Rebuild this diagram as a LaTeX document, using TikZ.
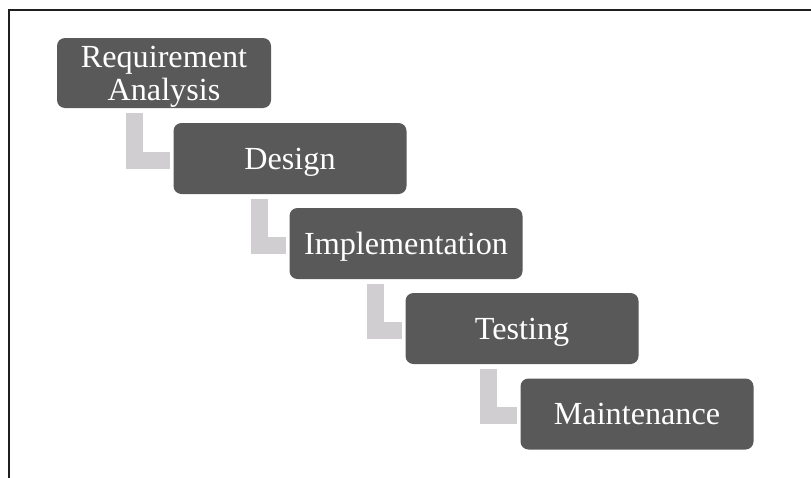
\documentclass[tikz,border=0pt]{standalone}
\usepackage{fontspec}
\setmainfont{Liberation Serif}
\usetikzlibrary{calc}
\definecolor{stepgray}{RGB}{89,89,89}
\definecolor{elbowgray}{RGB}{208,206,208}

\begin{document}
\begin{tikzpicture}[x=1pt, y=-1pt,
  stage/.style={fill=stepgray, rounded corners=8pt, text=white, minimum width=233pt,
    minimum height=71pt, inner sep=0pt, font=\fontsize{32.2}{33}\selectfont,
    text height=28.5pt, text depth=7pt},
  elbow/.style={draw=elbowgray, line width=17pt, line cap=butt, line join=miter}]
\useasboundingbox (0,0) rectangle (811,477);
\draw[line width=2pt, black!88] (9.3,480) -- (9.3,10.3) -- (815,10.3);

\node[stage, minimum width=214pt, minimum height=70pt, align=center,
  text height=61.5pt] (req) at (164,73) {Requirement\\Analysis};
\node[stage] (des) at (290,158.5) {Design};
\node[stage] (imp) at (406,243.5) {Implementation};
\node[stage] (tes) at (522,328.5) {Testing};
\node[stage] (mai) at (637,414) {Maintenance};

\draw[elbow] ($(des.west |- req.south)+(-39,5)$) |- ($(des.west)+(-3,1.5)$);
\draw[elbow] ($(imp.west |- des.south)+(-30,5)$) |- ($(imp.west)+(-3,1.5)$);
\draw[elbow] ($(tes.west |- imp.south)+(-30,5)$) |- ($(tes.west)+(-3,1.5)$);
\draw[elbow] ($(mai.west |- tes.south)+(-31.5,5)$) |- ($(mai.west)+(-3,1.5)$);

\end{tikzpicture}
\end{document}
